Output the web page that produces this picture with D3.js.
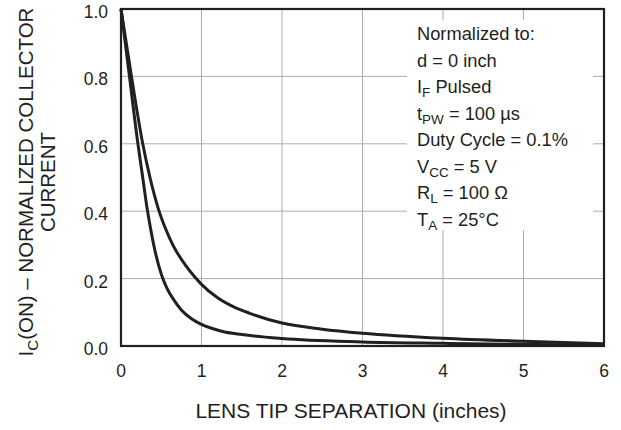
<!DOCTYPE html>
<html>
<head>
<meta charset="utf-8">
<script src="https://cdn.jsdelivr.net/npm/d3@7"></script>
<style>
  body { margin: 0; background: #fff; }
  text { font-family: "Liberation Sans", Arial, Helvetica, sans-serif; fill: #231f20; }
</style>
</head>
<body>
<div id="chart"></div>
<script>
// curve data (separation in inches, normalized current)
const wideX = [0, 0.13, 0.27, 0.36, 0.46, 0.55, 0.65, 0.8, 0.92, 1.0, 1.2, 1.4, 1.6, 2, 2.5, 3, 4, 5, 6];
const wideY = [1, 0.8, 0.6, 0.5, 0.41, 0.35, 0.297, 0.24, 0.204, 0.183, 0.143, 0.116, 0.097, 0.068, 0.05, 0.038, 0.023, 0.014, 0.007];
const narrowX = [0, 0.105, 0.21, 0.27, 0.32, 0.37, 0.42, 0.505, 0.57, 0.65, 0.75, 0.88, 1.0, 1.25, 1.5, 2, 3, 4, 5, 6];
const narrowY = [1, 0.8, 0.6, 0.5, 0.415, 0.345, 0.285, 0.21, 0.172, 0.139, 0.107, 0.08, 0.064, 0.044, 0.034, 0.022, 0.012, 0.008, 0.005, 0.003];

const xTicks = [0, 1, 2, 3, 4, 5, 6];
const yTicks = [0, 0.2, 0.4, 0.6, 0.8, 1.0];

// legend lines: [text, subscript] pieces
const legendLines = [
  [["Normalized to:", ""]],
  [["d = 0 inch", ""]],
  [["I", "F"], [" Pulsed", ""]],
  [["t", "PW"], [" = 100 \u00b5s", ""]],
  [["Duty Cycle = 0.1%", ""]],
  [["V", "CC"], [" = 5 V", ""]],
  [["R", "L"], [" = 100 \u03a9", ""]],
  [["T", "A"], [" = 25\u00b0C", ""]]
];

const W = 621, H = 430;
const margin = {top: 9, right: 17, bottom: 84, left: 121};

const svg = d3.select("#chart").append("svg")
    .attr("width", W)
    .attr("height", H);

const x = d3.scaleLinear().domain([0, 6]).range([margin.left, W - margin.right]);
const y = d3.scaleLinear().domain([0, 1]).range([H - margin.bottom, margin.top]);

const gridColor = "#a9adb2";
const ink = "#231f20";

// grid
svg.append("g")
  .selectAll("line")
  .data(xTicks.slice(1, -1))
  .join("line")
    .attr("x1", d => x(d)).attr("x2", d => x(d))
    .attr("y1", y(1)).attr("y2", y(0))
    .attr("stroke", gridColor).attr("stroke-width", 1);

svg.append("g")
  .selectAll("line")
  .data(yTicks.slice(1, -1))
  .join("line")
    .attr("x1", x(0)).attr("x2", x(6))
    .attr("y1", d => y(d)).attr("y2", d => y(d))
    .attr("stroke", gridColor).attr("stroke-width", 1);

// legend box blanks the grid
svg.append("rect")
    .attr("x", 407).attr("y", 20)
    .attr("width", 186).attr("height", 210)
    .attr("fill", "#fff");

// writes pieces with subscripts into a text element
function richText(t, parts, subSize, shift) {
  let down = false;
  parts.forEach(p => {
    const main = t.append("tspan").text(p[0]);
    if (down) { main.attr("dy", -shift); down = false; }
    if (p[1]) {
      t.append("tspan").text(p[1])
        .attr("font-size", subSize)
        .attr("dy", shift);
      down = true;
    }
  });
}

const lg = svg.append("g").attr("transform", "translate(417,0)");
legendLines.forEach((parts, i) => {
  const t = lg.append("text")
      .attr("y", 40 + i * 26.5)
      .attr("font-size", 18.3);
  richText(t, parts, 13.5, 4);
});

// frame
svg.append("rect")
    .attr("x", x(0)).attr("y", y(1))
    .attr("width", x(6) - x(0)).attr("height", y(0) - y(1))
    .attr("fill", "none")
    .attr("stroke", ink).attr("stroke-width", 2.2);

// curves
const line = d3.line()
    .x(d => x(d[0]))
    .y(d => y(d[1]))
    .curve(d3.curveMonotoneX);

[d3.zip(wideX, wideY), d3.zip(narrowX, narrowY)].forEach(pts => {
  svg.append("path")
      .datum(pts)
      .attr("d", line)
      .attr("fill", "none")
      .attr("stroke", ink)
      .attr("stroke-width", 3)
      .attr("stroke-linejoin", "round");
});

// tick labels
svg.append("g")
  .selectAll("text")
  .data(xTicks)
  .join("text")
    .attr("x", d => x(d))
    .attr("y", y(0) + 31)
    .attr("text-anchor", "middle")
    .attr("font-size", 17.5)
    .text(d => d);

svg.append("g")
  .selectAll("text")
  .data(yTicks)
  .join("text")
    .attr("x", x(0) - 13)
    .attr("y", d => y(d) + 9)
    .attr("text-anchor", "end")
    .attr("font-size", 17.5)
    .text(d => d3.format(".1f")(d));

// axis titles
svg.append("text")
    .attr("x", 351)
    .attr("y", 418)
    .attr("text-anchor", "middle")
    .attr("font-size", 21)
    .text("LENS TIP SEPARATION (inches)");

const yt = svg.append("text")
    .attr("transform", "translate(33,182) rotate(-90)")
    .attr("text-anchor", "middle")
    .attr("font-size", 20.5);
richText(yt, [["I", "C"], ["(ON) \u2013 NORMALIZED COLLECTOR", ""]], 15, 5);

svg.append("text")
    .attr("transform", "translate(55,182) rotate(-90)")
    .attr("text-anchor", "middle")
    .attr("font-size", 20.5)
    .text("CURRENT");
</script>
</body>
</html>
